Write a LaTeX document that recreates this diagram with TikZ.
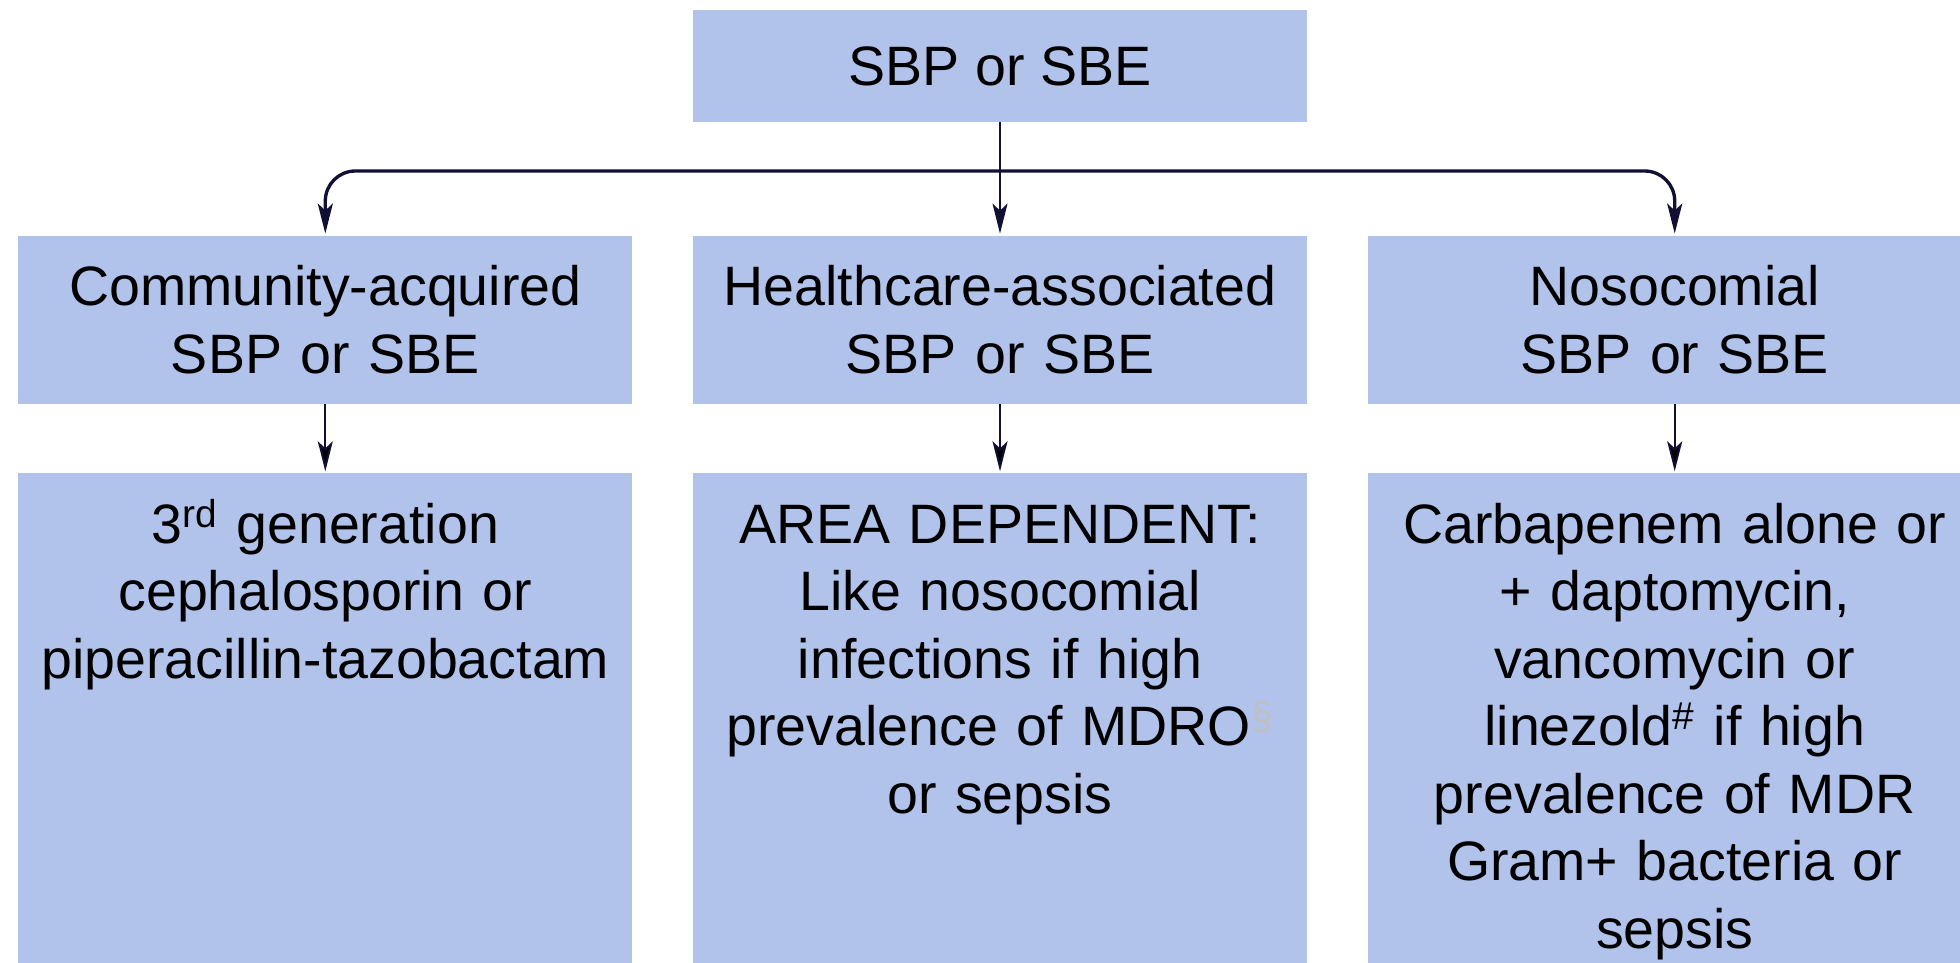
\documentclass[tikz,border=0pt]{standalone}
\usepackage{fontspec}
\setmainfont{Liberation Sans}
\usetikzlibrary{positioning,arrows.meta}
\definecolor{boxblue}{RGB}{177,195,234}
\definecolor{linknavy}{RGB}{16,16,52}

\begin{document}
\begin{tikzpicture}[>={Stealth[length=0.6cm,width=0.3cm,inset=0.14cm]},
    every node/.style={font=\fontsize{31.6}{38.4}\selectfont},
    rootbox/.style={fill=boxblue,minimum width=12.28cm,minimum height=2.24cm,inner sep=0pt},
    typebox/.style={fill=boxblue,minimum width=12.28cm,minimum height=3.36cm,text width=11.6cm,align=center,inner ysep=0pt},
    leafbox/.style={fill=boxblue,text width=11.6cm,inner xsep=0.34cm,inner ysep=0.46cm,text height=0.94cm,text depth=10cm,align=center},
    link/.style={->,draw=linknavy,line width=1.1pt,shorten >=1pt},
    branch/.style={->,draw=linknavy,line width=1.9pt,rounded corners=0.6cm,shorten >=1pt}]
    \useasboundingbox (0,0) rectangle (39.2,-19.24);
    \clip (0,0) rectangle (39.2,-19.24);

    % top
    \node[rootbox] (sbp) at (20,-1.32) {SBP or SBE};

    % kind of infection
    \node[typebox] (hca) [below=2.26cm of sbp] {Healthcare-associated\\SBP or SBE};
    \node[typebox] (ca) [left=1.2cm of hca] {Community-acquired\\SBP or SBE};
    \node[typebox] (noso) [right=1.2cm of hca] {Nosocomial\\SBP or SBE};

    % treatment
    \node[leafbox] (catx) [below=1.38cm of ca] {3\textsuperscript{rd} generation\\cephalosporin or\\piperacillin-tazobactam};
    \node[leafbox] (hcatx) [below=1.38cm of hca] {AREA DEPENDENT:\\Like nosocomial\\infections if high\\prevalence of MDRO\textsuperscript{\color{black!25}§}\\or sepsis};
    \node[leafbox] (nosotx) [below=1.38cm of noso] {Carbapenem alone or\\+ daptomycin,\\vancomycin or\\linezold\textsuperscript{\#} if high\\prevalence of MDR\\Gram+ bacteria or\\sepsis};

    \coordinate (fork) at (20,-3.42);

    \draw[link] (sbp) -- (hca);
    \draw[branch] (fork) -| (ca);
    \draw[branch] (fork) -| (noso);

    \path[link]
        (ca) edge (catx)
        (hca) edge (hcatx)
        (noso) edge (nosotx)
    ;

\end{tikzpicture}
\end{document}
